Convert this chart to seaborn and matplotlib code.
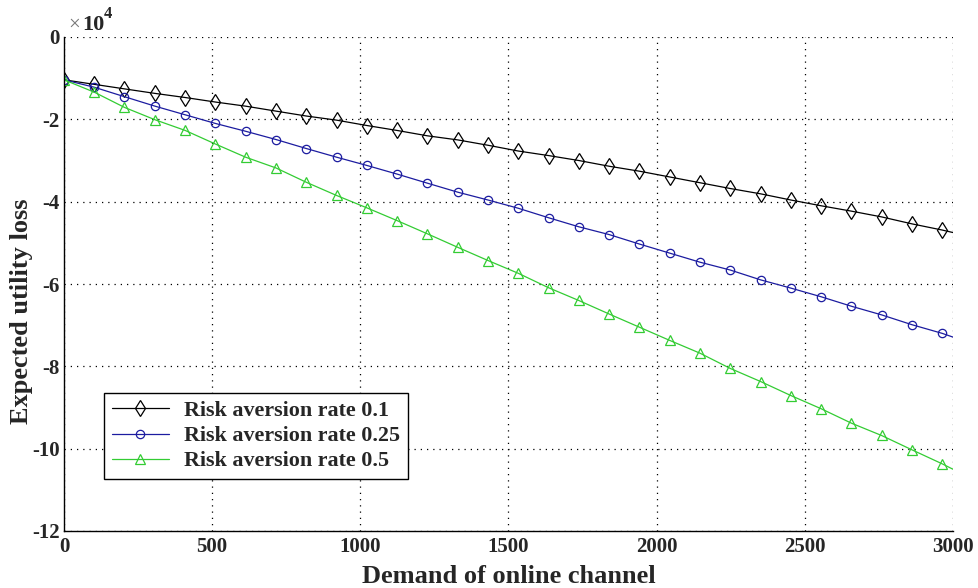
import numpy as np
import pandas as pd
import matplotlib
matplotlib.use("Agg")
import matplotlib.pyplot as plt
from matplotlib.ticker import FuncFormatter
import seaborn as sns

# demand of online channel (marker positions + end of line)
demand = [0, 102, 204, 307, 409, 511, 613, 715, 818, 920,
          1022, 1124, 1226, 1329, 1431, 1533, 1635, 1737, 1840, 1942,
          2044, 2146, 2248, 2351, 2453, 2555, 2657, 2759, 2862, 2964, 3000]

# expected utility loss, in units of 1e4
loss_01 = [-1.04, -1.15, -1.26, -1.37, -1.47, -1.58, -1.68, -1.80, -1.92, -2.02,
           -2.15, -2.27, -2.40, -2.50, -2.63, -2.77, -2.88, -3.00, -3.14, -3.26,
           -3.40, -3.54, -3.68, -3.81, -3.96, -4.10, -4.23, -4.37, -4.54, -4.69, -4.75]
loss_025 = [-1.04, -1.22, -1.45, -1.68, -1.89, -2.10, -2.29, -2.49, -2.71, -2.92,
            -3.12, -3.33, -3.55, -3.77, -3.96, -4.16, -4.39, -4.61, -4.80, -5.03,
            -5.25, -5.47, -5.66, -5.90, -6.10, -6.31, -6.54, -6.75, -6.99, -7.20, -7.29]
loss_05 = [-1.04, -1.34, -1.71, -2.01, -2.27, -2.60, -2.92, -3.18, -3.53, -3.85,
           -4.15, -4.46, -4.78, -5.11, -5.43, -5.74, -6.09, -6.40, -6.73, -7.05,
           -7.37, -7.68, -8.05, -8.37, -8.71, -9.03, -9.38, -9.68, -10.03, -10.37, -10.50]

labels = ["Risk aversion rate 0.1", "Risk aversion rate 0.25", "Risk aversion rate 0.5"]

sns.set_style("white")
plt.rcParams["font.family"] = ["Liberation Serif", "DejaVu Serif"]
plt.rcParams["font.weight"] = "bold"
plt.rcParams["axes.unicode_minus"] = False

fig = plt.figure(figsize=(9.79, 5.88), dpi=100)
ax = fig.add_axes([64 / 979, 1 - 531 / 588, 889 / 979, 494 / 588])

series = [loss_01, loss_025, loss_05]
colors = ["black", "#1c1ca0", "#33cc33"]
markers = ["d", "o", "^"]
msizes = [8, 6, 6.5]

for vals, lab, col, mk, ms in zip(series, labels, colors, markers, msizes):
    df = pd.DataFrame({"demand": demand, "loss": vals})
    sns.lineplot(data=df, x="demand", y="loss", ax=ax, color=col, label=lab,
                 marker=mk, markersize=ms, markerfacecolor="none",
                 markeredgecolor=col, markeredgewidth=0.9, linewidth=0.9,
                 markevery=list(range(len(demand) - 1)))

ax.set_xlim(0, 3000)
ax.set_ylim(-12, 0)
ax.set_xticks(np.arange(0, 3001, 500))
ax.set_yticks(np.arange(-12, 1, 2))
ax.yaxis.set_major_formatter(FuncFormatter(lambda v, p: f"{v:g}"))

# exponent label, matlab style
ax.text(0.005, 1.005, "\u00d7", transform=ax.transAxes, fontsize=15,
        color="#777777", fontweight="normal", ha="left", va="bottom")
ax.text(0.02, 1.005, "10", transform=ax.transAxes, fontsize=16,
        ha="left", va="bottom")
ax.text(0.0445, 1.03, "4", transform=ax.transAxes, fontsize=12,
        ha="left", va="bottom")

ax.grid(True, linestyle=(0, (1, 4)), color="black", linewidth=0.9)
for side in ["top", "right"]:
    ax.spines[side].set_visible(False)
for side in ["left", "bottom"]:
    ax.spines[side].set_color("black")
    ax.spines[side].set_linewidth(1.0)
ax.tick_params(direction="in", length=10, width=1, labelsize=15, pad=4)
ax.tick_params(axis="y", pad=3)

ax.set_xlabel("Demand of online channel", fontsize=19, fontweight="bold", labelpad=6)
ax.set_ylabel("Expected utility loss", fontsize=19, fontweight="bold")
ax.yaxis.set_label_coords(-31 / 889, 0.445)

leg = ax.legend(loc="lower left", bbox_to_anchor=(0.045, 0.105), borderaxespad=0,
                fancybox=False, edgecolor="black", framealpha=1, fontsize=15.8,
                handlelength=2.6, handletextpad=0.7, borderpad=0.35, labelspacing=0.22)
leg.get_frame().set_linewidth(1.0)

fig.savefig("out.png", dpi=100)
